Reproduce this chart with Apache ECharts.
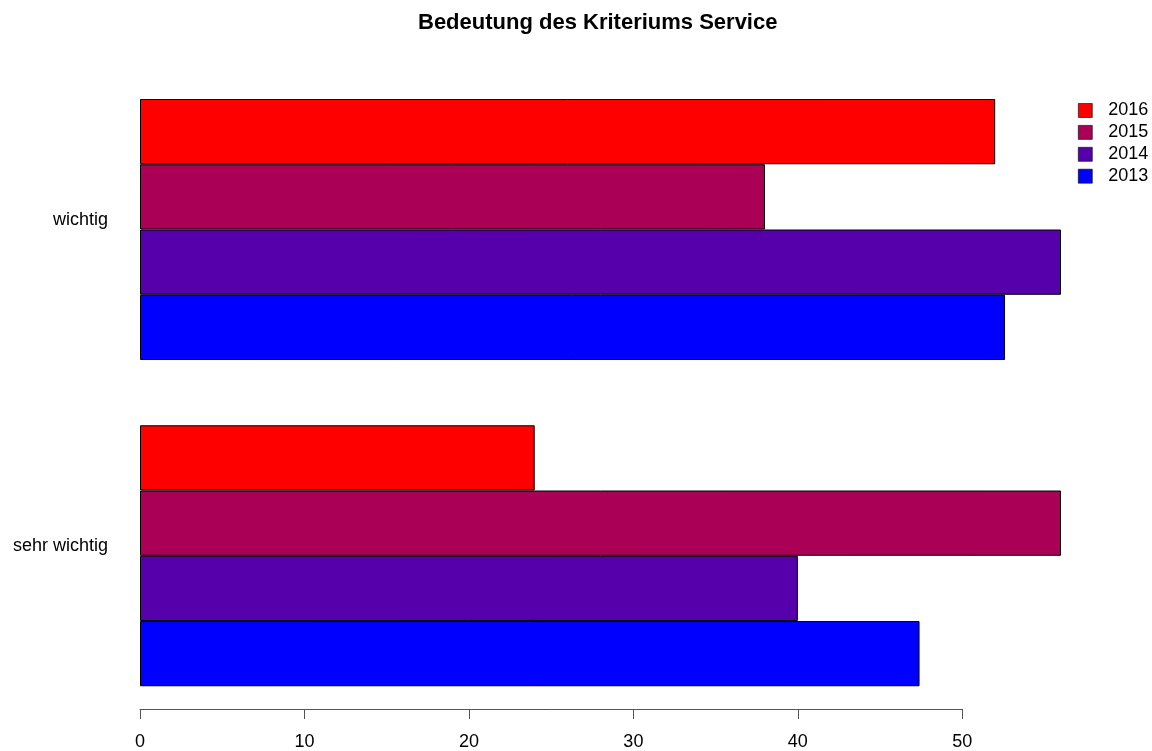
<!DOCTYPE html>
<html>
<head>
<meta charset="utf-8">
<script src="https://cdn.jsdelivr.net/npm/echarts@6/dist/echarts.min.js"></script>
<style>html,body{margin:0;padding:0;background:#fff}#c{width:1152px;height:751px}</style>
</head>
<body>
<div id="c"></div>
<script>
const categories = ['sehr wichtig', 'wichtig'];
const years = ['2016', '2015', '2014', '2013'];
const values2016 = [24, 52];
const values2015 = [56, 38];
const values2014 = [40, 56];
const values2013 = [47.4, 52.6];
const colors = ['#FF0000', '#AA0055', '#5500AA', '#0000FF'];
const tickValues = [0, 10, 20, 30, 40, 50];

const seriesValues = [values2016, values2015, values2014, values2013];
const font = 'Liberation Sans, Arial, Helvetica, sans-serif';
const chart = echarts.init(document.getElementById('c'), null, {renderer: 'canvas'});
const unit = 16.446;
chart.setOption({
  animation: false,
  title: {
    text: 'Bedeutung des Kriteriums Service',
    left: 413,
    top: 7,
    textStyle: {fontFamily: font, fontSize: 22, fontWeight: 'bold', color: '#000'}
  },
  legend: {
    orient: 'vertical',
    left: 1073,
    top: 96.5,
    itemWidth: 14,
    itemHeight: 14,
    itemGap: 3.9,
    icon: 'rect',
    data: years,
    itemStyle: {borderColor: '#000', borderWidth: 0.6},
    textStyle: {fontFamily: font, fontSize: 18, color: '#000', padding: [0, 0, 0, 11]}
  },
  grid: [
    {left: 140, width: 60 * unit, top: 66.4, bottom: 32.1, containLabel: false},
    {left: 140, width: 50 * unit, top: 66.4, bottom: 42, containLabel: false}
  ],
  xAxis: [
    {gridIndex: 0, type: 'value', min: 0, max: 60, show: false},
    {gridIndex: 1, type: 'value', min: 0, max: 50, interval: 10, position: 'bottom',
     axisLine: {show: true, lineStyle: {color: '#555', width: 1}},
     axisTick: {show: true, length: 10, lineStyle: {color: '#555'}},
     axisLabel: {show: true, margin: 24, fontFamily: font, fontSize: 18, color: '#000',
       customValues: tickValues},
     splitLine: {show: false}}
  ],
  yAxis: [
    {gridIndex: 0, type: 'category', data: categories,
     axisLine: {show: false}, axisTick: {show: false},
     axisLabel: {margin: 32, fontFamily: font, fontSize: 18, color: '#000',
       verticalAlign: 'bottom', lineHeight: 19}},
    {gridIndex: 1, type: 'category', data: categories, show: false}
  ],
  series: years.map((y, i) => ({
    name: y,
    type: 'bar',
    xAxisIndex: 0,
    yAxisIndex: 0,
    data: seriesValues[i],
    barGap: '0%',
    barCategoryGap: '20%',
    itemStyle: {color: colors[i], borderColor: '#000', borderWidth: 1}
  }))
});
</script>
</body>
</html>
